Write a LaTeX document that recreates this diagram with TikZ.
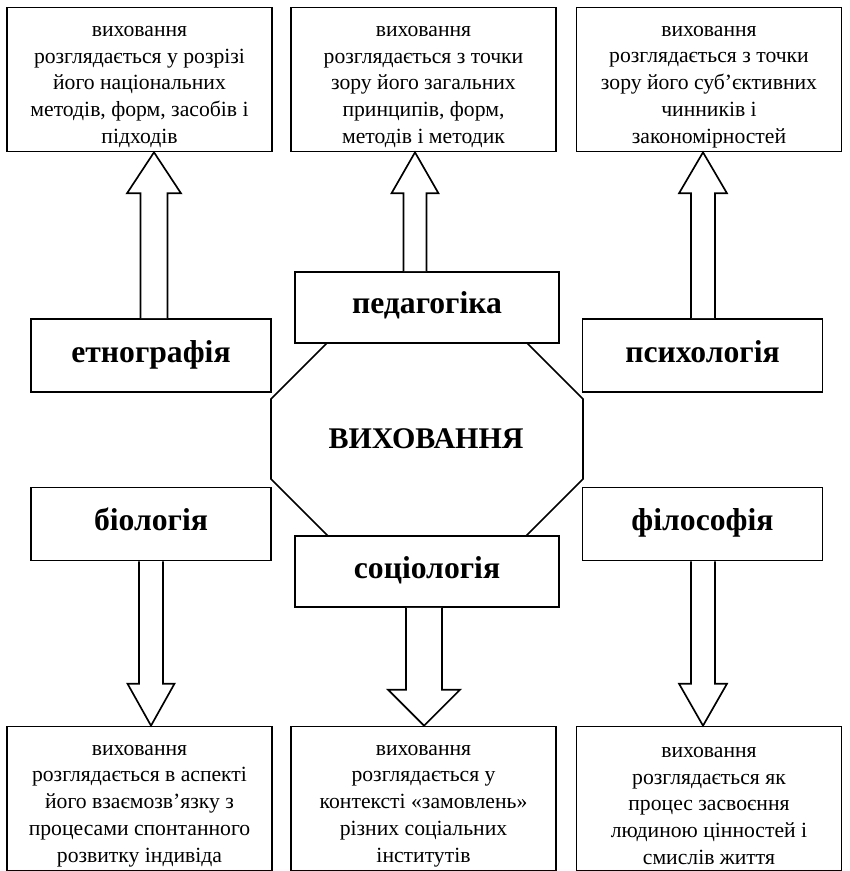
\documentclass[tikz,border=0pt]{standalone}
\usepackage{fontspec}
\setmainfont{Liberation Serif}
\usetikzlibrary{calc}

% hollow block arrow: base, tip, shaft half width, head half width, head length
\newcommand{\blockarrow}[5]{%
  \draw[arrowbody] ($(#1)+(-#3,0)$) -- ($(#2)+(-#3,#5)$) -- ($(#2)+(-#4,#5)$) -- (#2)
    -- ($(#2)+(#4,#5)$) -- ($(#2)+(#3,#5)$) -- ($(#1)+(#3,0)$);}
% extra room above the first line of a box
\newcommand{\topgap}{\rule{0pt}{15pt}}

\begin{document}
\begin{tikzpicture}[x=0.6pt, y=-0.6pt, every node/.style={inner sep=0pt}]
    \tikzstyle{descbox}=[draw, line width=1pt, fill=white, minimum width=159pt, minimum height=86.4pt, align=center, font=\fontsize{13}{16.1}\selectfont]
    \tikzstyle{scibox}=[draw, line width=1pt, fill=white, minimum width=144pt, minimum height=43.8pt, text height=12pt, text depth=4.2pt, font=\fontsize{19}{23}\selectfont\bfseries]
    \tikzstyle{midbox}=[scibox, minimum width=158.4pt, minimum height=42.6pt]
    \tikzstyle{arrowbody}=[line width=1pt, fill=white, line join=miter]
    \useasboundingbox (0,0) rectangle (849,871);

    % centre
    \draw[line width=1pt, fill=white] (370,300) -- (484,300) -- (583,399) -- (583,479) -- (484,578) -- (370,578) -- (271,479) -- (271,399) -- cycle;
    \node[anchor=base, font=\fontsize{18}{22}\selectfont\bfseries] (vykh) at (426,448) {ВИХОВАННЯ};

    % sciences
    \node[scibox] (etno) at (151,355.5) {етнографія};
    \node[midbox] (ped) at (427,307.5) {педагогіка};
    \node[scibox] (psych) at (702.5,355.5) {психологія};
    \node[scibox] (bio) at (151,524) {біологія};
    \node[midbox] (soc) at (427,571.5) {соціологія};
    \node[scibox] (phil) at (702.5,524) {філософія};

    % views
    \node[descbox] (descE) at (139.5,79.5) {\topgap виховання\\розглядається у розрізі\\його національних\\методів, форм, засобів і\\підходів};
    \node[descbox] (descP) at (423.5,79.5) {\topgap виховання\\розглядається з точки\\зору його загальних\\принципів, форм,\\методів і методик};
    \node[descbox] (descPs) at (709,79.5) {\topgap виховання\\розглядається з точки\\зору його суб’єктивних\\чинників і\\закономірностей};
    \node[descbox] (descB) at (139.5,798.5) {\topgap виховання\\розглядається в аспекті\\його взаємозв’язку з\\процесами спонтанного\\розвитку індивіда};
    \node[descbox] (descS) at (423.5,798.5) {\topgap виховання\\розглядається у\\контексті «замовлень»\\різних соціальних\\інститутів};
    \node[descbox] (descF) at (709,798.5) {\topgap виховання\\розглядається як\\процес засвоєння\\людиною цінностей і\\смислів життя};

    % arrows
    \blockarrow{154,0 |- etno.north}{154,0 |- descE.south}{13.5}{27}{41}
    \blockarrow{415,0 |- ped.north}{415,0 |- descP.south}{11.5}{23.5}{41}
    \blockarrow{703,0 |- psych.north}{703,0 |- descPs.south}{12}{24}{41}
    \blockarrow{151,0 |- bio.south}{151,0 |- descB.north}{12}{23.5}{-42}
    \blockarrow{424,0 |- soc.south}{424,0 |- descS.north}{18}{36}{-36}
    \blockarrow{703,0 |- phil.south}{703,0 |- descF.north}{12}{24}{-42}
\end{tikzpicture}
\end{document}
